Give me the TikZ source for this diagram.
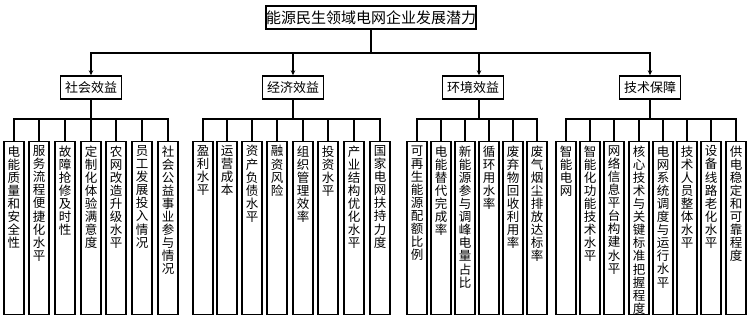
\documentclass[tikz,border=0pt]{standalone}
\usepackage{fontspec}
\setmainfont{Noto Sans CJK SC}
\XeTeXlinebreaklocale "zh"
\XeTeXlinebreakskip=0pt plus 1pt
\usetikzlibrary{arrows.meta}
\tikzset{
  >={Stealth[length=5pt,width=4.5pt]},
  rt/.style={draw,line width=1.4pt,minimum width=195pt,minimum height=23pt,inner sep=0pt,font=\fontsize{15}{15}\selectfont},
  grp/.style={draw,line width=1.4pt,minimum width=61pt,minimum height=23pt,inner sep=0pt,font=\fontsize{13}{13}\selectfont},
  lf/.style={draw,line width=1.4pt,anchor=north,minimum width=20pt,minimum height=173pt,inner sep=0pt},
  lt/.style={anchor=north,inner sep=0pt,yshift=-4pt,text width=13pt,align=center,font=\fontsize{12.5}{13.1}\selectfont},
  every picture/.style={line width=1.1pt},
}

\begin{document}
\begin{tikzpicture}[x=1pt,y=-1pt]
\useasboundingbox (0,0) rectangle (748,321);
\node[rt] (root) at (371,17.5) {能源民生领域电网企业发展潜力};
\node[grp] (s) at (91,87.5) {社会效益}; \node[grp] (e) at (293,87.5) {经济效益};
\node[grp] (h) at (473,87.5) {环境效益}; \node[grp] (t) at (650,87.5) {技术保障};
\coordinate (rb) at (371,53); \coordinate (sb) at (91,119); \coordinate (eb) at (293,119);
\coordinate (hb) at (479,119); \coordinate (tb) at (650,119);
% social
\node[lf,label={[lt]north:电能质量和安全性}] (s1) at (14,141){}; \node[lf,label={[lt]north:服务流程便捷化水平}] (s2) at (39,141){};
\node[lf,label={[lt]north:故障抢修及时性}] (s3) at (65,141){}; \node[lf,label={[lt]north:定制化体验满意度}] (s4) at (91,141){};
\node[lf,label={[lt]north:农网改造升级水平}] (s5) at (116,141){}; \node[lf,label={[lt]north:员工发展投入情况}] (s6) at (142,141){};
\node[lf,label={[lt]north:社会公益事业参与情况}] (s7) at (168,141){};
% economic
\node[lf,label={[lt]north:盈利水平}] (e1) at (203,141){}; \node[lf,label={[lt]north:运营成本}] (e2) at (227,141){};
\node[lf,label={[lt]north:资产负债水平}] (e3) at (252,141){}; \node[lf,label={[lt]north:融资风险}] (e4) at (277,141){};
\node[lf,label={[lt]north:组织管理效率}] (e5) at (303,141){}; \node[lf,label={[lt]north:投资水平}] (e6) at (328,141){};
\node[lf,label={[lt]north:产业结构优化水平}] (e7) at (354,141){}; \node[lf,label={[lt]north:国家电网扶持力度}] (e8) at (380,141){};
% environment
\node[lf,label={[lt]north:可再生能源配额比例}] (h1) at (417,141){}; \node[lf,label={[lt]north:电能替代完成率}] (h2) at (441,141){};
\node[lf,label={[lt]north:新能源参与调峰电量占比}] (h3) at (465,141){}; \node[lf,label={[lt]north:循环用水率}] (h4) at (489,141){};
\node[lf,label={[lt]north:废弃物回收利用率}] (h5) at (513,141){}; \node[lf,label={[lt]north:废气烟尘排放达标率}] (h6) at (537,141){};
% technology
\node[lf,label={[lt]north:智能电网}] (t1) at (566,141){}; \node[lf,label={[lt]north:智能化功能技术水平}] (t2) at (590,141){};
\node[lf,label={[lt]north:网络信息平台构建水平}] (t3) at (614,141){}; \node[lf,label={[lt]north:核心技术与关键标准把握程度}] (t4) at (639,141){};
\node[lf,label={[lt]north:电网系统调度与运行水平}] (t5) at (663,141){}; \node[lf,label={[lt]north:技术人员整体水平}] (t6) at (687,141){};
\node[lf,label={[lt]north:设备线路老化水平}] (t7) at (711,141){}; \node[lf,label={[lt]north:供电稳定和可靠程度}] (t8) at (736,141){};
\draw (root) -- (rb); \draw[->] (rb) -| (s); \draw[->] (rb) -| (e); \draw[->] (rb) -| (h.north -| hb); \draw[->] (rb) -| (t);
\draw (s) -- (sb); \draw (e) -- (eb); \draw (h.south -| hb) -- (hb); \draw (t) -- (tb);
\draw (sb) -| (s1); \draw (sb) -| (s2); \draw (sb) -| (s3); \draw (sb) -| (s4); \draw (sb) -| (s5); \draw (sb) -| (s6); \draw (sb) -| (s7);
\draw (eb) -| (e1); \draw (eb) -| (e2); \draw (eb) -| (e3); \draw (eb) -| (e4); \draw (eb) -| (e5); \draw (eb) -| (e6); \draw (eb) -| (e7); \draw (eb) -| (e8);
\draw (hb) -| (h1); \draw (hb) -| (h2); \draw (hb) -| (h3); \draw (hb) -| (h4); \draw (hb) -| (h5); \draw (hb) -| (h6);
\draw (tb) -| (t1); \draw (tb) -| (t2); \draw (tb) -| (t3); \draw (tb) -| (t4); \draw (tb) -| (t5); \draw (tb) -| (t6); \draw (tb) -| (t7); \draw (tb) -| (t8);
\end{tikzpicture}
\end{document}
